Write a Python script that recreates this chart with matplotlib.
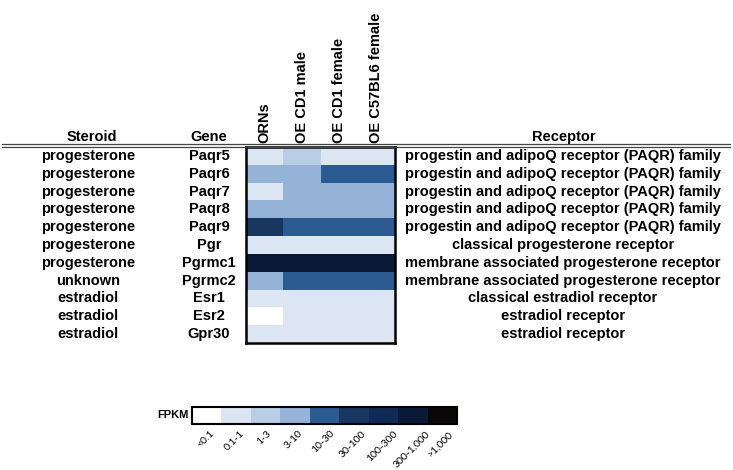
import matplotlib
matplotlib.use("Agg")
import matplotlib.pyplot as plt
import numpy as np
from matplotlib.colors import ListedColormap, BoundaryNorm
from matplotlib.lines import Line2D
from matplotlib.transforms import blended_transform_factory

plt.rcParams['font.family'] = ['Liberation Sans', 'DejaVu Sans']

steroids = ["progesterone", "progesterone", "progesterone", "progesterone", "progesterone",
            "progesterone", "progesterone", "unknown", "estradiol", "estradiol", "estradiol"]
genes = ["Paqr5", "Paqr6", "Paqr7", "Paqr8", "Paqr9", "Pgr", "Pgrmc1", "Pgrmc2", "Esr1", "Esr2", "Gpr30"]
receptors = ["progestin and adipoQ receptor (PAQR) family"] * 5 + [
    "classical progesterone receptor",
    "membrane associated progesterone receptor",
    "membrane associated progesterone receptor",
    "classical estradiol receptor",
    "estradiol receptor",
    "estradiol receptor"]
samples = ["ORNs", "OE CD1 male", "OE CD1 female", "OE C57BL6 female"]
# FPKM category index (0: <0.1 ... 8: >1,000)
levels = np.array([
    [1, 2, 1, 1],
    [3, 3, 4, 4],
    [1, 3, 3, 3],
    [3, 3, 3, 3],
    [5, 4, 4, 4],
    [1, 1, 1, 1],
    [7, 7, 7, 7],
    [3, 4, 4, 4],
    [1, 1, 1, 1],
    [0, 1, 1, 1],
    [1, 1, 1, 1],
])
bin_labels = ["<0.1", "0.1-1", "1-3", "3-10", "10-30", "30-100", "100-300", "300-1,000", ">1,000"]
bin_colors = ["#ffffff", "#dce6f2", "#b9cde5", "#95b3d7", "#2b5b91", "#17375e",
              "#0f2a54", "#0a1a36", "#0c0707"]

cmap = ListedColormap(bin_colors)
norm = BoundaryNorm(np.arange(-0.5, len(bin_colors) + 0.5, 1), cmap.N)

W, H = 733, 470
fig = plt.figure(figsize=(W / 100, H / 100), dpi=100)

def fx(px):
    return px / W

def fy(py):
    return 1 - py / H

# heatmap
x0, x1, y0, y1 = 246, 395, 147, 343
ax = fig.add_axes([fx(x0), fy(y1), fx(x1 - x0), (y1 - y0) / H])
ax.pcolormesh(np.arange(len(samples) + 1) - 0.5, np.arange(len(genes) + 1) - 0.5,
              levels, cmap=cmap, norm=norm)
ax.set_xlim(-0.5, len(samples) - 0.5)
ax.set_ylim(len(genes) - 0.5, -0.5)
ax.set_xticks([])
ax.set_yticks([])
for s in ax.spines.values():
    s.set_linewidth(1.8)
    s.set_color("black")

fs = 10.5
tr = blended_transform_factory(fig.transFigure, ax.transData)
for i in range(len(genes)):
    ax.text(fx(88), i, steroids[i], transform=tr, ha="center", va="center",
            fontsize=fs, fontweight="bold", clip_on=False)
    ax.text(fx(209), i, genes[i], transform=tr, ha="center", va="center",
            fontsize=fs, fontweight="bold", clip_on=False)
    ax.text(fx(563), i, receptors[i], transform=tr, ha="center", va="center",
            fontsize=fs, fontweight="bold", clip_on=False)

# headers
for xp, lab in [(92, "Steroid"), (209, "Gene"), (564, "Receptor")]:
    fig.text(fx(xp), fy(137), lab, ha="center", va="center", fontsize=fs, fontweight="bold")

trc = blended_transform_factory(ax.transData, fig.transFigure)
for j, lab in enumerate(samples):
    ax.text(j, fy(143), lab, transform=trc, rotation=90, ha="center", va="bottom",
            fontsize=fs, fontweight="bold", clip_on=False)

# double header rule
for yp in (144.2, 147.2):
    fig.add_artist(Line2D([fx(2), fx(730)], [fy(yp), fy(yp)], color="#444444", lw=0.9,
                          transform=fig.transFigure))

# colorbar legend
cx0, cx1, cy0, cy1 = 192, 457, 407, 424
cax = fig.add_axes([fx(cx0), fy(cy1), fx(cx1 - cx0), (cy1 - cy0) / H])
cax.pcolormesh(np.arange(len(bin_colors) + 1) - 0.5, [0, 1],
               np.arange(len(bin_colors))[None, :], cmap=cmap, norm=norm)
cax.set_xlim(-0.5, len(bin_colors) - 0.5)
cax.set_ylim(0, 1)
cax.set_xticks([])
cax.set_yticks([])
for s in cax.spines.values():
    s.set_linewidth(1.5)
cax.text(-0.6, 0.5, "FPKM", ha="right", va="center", fontsize=8, fontweight="bold",
         clip_on=False)
trl = blended_transform_factory(cax.transData, fig.transFigure)
for k, lab in enumerate(bin_labels):
    cax.text(k - 0.05, fy(429), lab, transform=trl, rotation=45,
             ha="center", va="top", fontsize=7.5, family=["Lato", "DejaVu Sans"],
             clip_on=False)

fig.savefig("out.png", dpi=100)
